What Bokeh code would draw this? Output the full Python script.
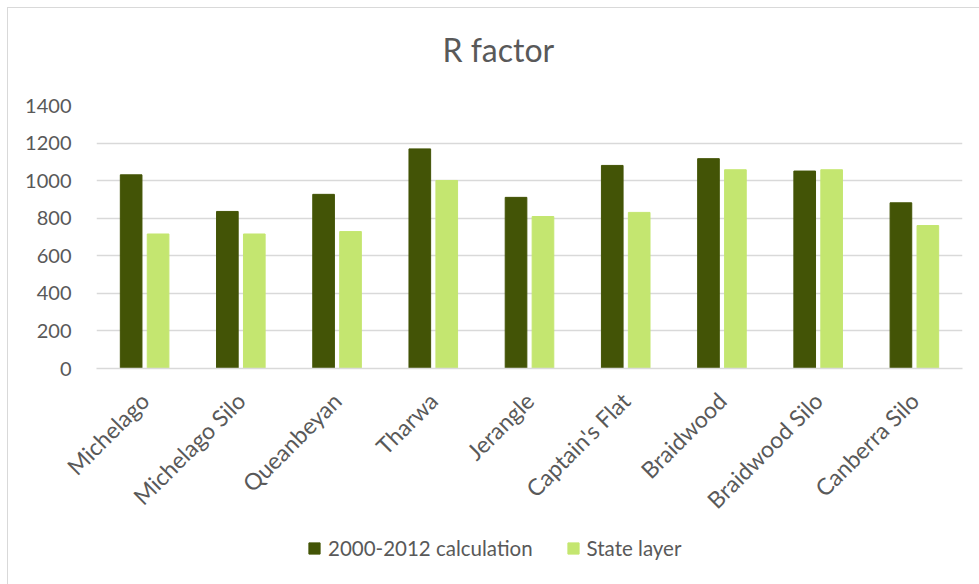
import math
from bokeh.plotting import figure
from bokeh.layouts import column
from bokeh.models import FactorRange, Legend, LegendItem, Title
from bokeh.transform import dodge
from bokeh.models import ColumnDataSource
from bokeh.embed import file_html
from bokeh.resources import INLINE

categories = ["Michelago", "Michelago Silo", "Queanbeyan", "Tharwa", "Jerangle",
              "Captain's Flat", "Braidwood", "Braidwood Silo", "Canberra Silo"]
calc_2000_2012 = [1031, 836, 927, 1169, 911, 1081, 1117, 1051, 882]
state_layer = [716, 716, 729, 1001, 809, 831, 1058, 1058, 761]
y_ticks = [0, 200, 400, 600, 800, 1000, 1200, 1400]
series_names = ["2000-2012 calculation", "State layer"]

DARK = "#435406"
LIGHT = "#C4E670"
TEXT = "#595959"
GRID = "#D9D9D9"
FONT = "Lato"

src = ColumnDataSource(dict(cat=categories, a=calc_2000_2012, b=state_layer))

p = figure(x_range=FactorRange(factors=categories, range_padding=0),
           y_range=(0, 1400), frame_width=866, frame_height=263,
           output_backend="svg", toolbar_location=None, tools="",
           min_border_left=88, min_border_right=17, min_border_top=97,
           min_border_bottom=160)

spacer = Title(text=" ", text_font=FONT, text_font_size="20px", standoff=9)
p.add_layout(spacer, "above")
t = Title(text="R factor", align="left", offset=346, text_font=FONT, text_font_size="32px",
          text_font_style="normal", text_color=TEXT, standoff=0, vertical_align="top")
p.add_layout(t, "above")

p.vbar(x=dodge("cat", -0.14, range=p.x_range), top="a", width=0.225, source=src,
       fill_color=DARK, line_color=DARK)
p.vbar(x=dodge("cat", 0.14, range=p.x_range), top="b", width=0.225, source=src,
       fill_color=LIGHT, line_color=LIGHT)

p.outline_line_color = None
p.xgrid.grid_line_color = None
p.ygrid.grid_line_color = GRID
p.ygrid.grid_line_width = 1.5
p.yaxis.ticker = y_ticks
p.yaxis.axis_line_color = None
p.yaxis.major_tick_line_color = None
p.yaxis.minor_tick_line_color = None
p.yaxis.major_label_text_font = FONT
p.yaxis.major_label_text_font_size = "20px"
p.yaxis.major_label_text_color = TEXT
p.yaxis.major_label_standoff = 19

p.xaxis.axis_line_color = GRID
p.xaxis.axis_line_width = 1.5
p.xaxis.major_tick_line_color = None
p.xaxis.minor_tick_line_color = None
p.xaxis.major_label_orientation = math.pi / 4
p.xaxis.major_label_text_font = FONT
p.xaxis.major_label_text_font_size = "23px"
p.xaxis.major_label_text_color = TEXT
p.xaxis.major_label_standoff = 22

# legend strip below the chart (swatch renderers sit outside the visible range)
p2 = figure(width=971, height=56, output_backend="svg", toolbar_location=None, tools="",
            x_axis_location=None, y_axis_location=None, min_border=0,
            x_range=(0, 1), y_range=(0, 1))
p2.outline_line_color = None
p2.grid.visible = False
l1 = p2.vbar(x=[-10], top=[-10], bottom=[-11], width=0.1, fill_color=DARK, line_color=DARK)
l2 = p2.vbar(x=[-10], top=[-10], bottom=[-11], width=0.1, fill_color=LIGHT, line_color=LIGHT)
legend = Legend(items=[LegendItem(label=series_names[0], renderers=[l1]),
                       LegendItem(label=series_names[1], renderers=[l2])],
                orientation="horizontal", location=(211, 24),
                label_text_font=FONT, label_text_font_size="20.5px", label_text_color=TEXT,
                glyph_width=14, glyph_height=14, label_standoff=7, spacing=33,
                border_line_color=None, background_fill_alpha=0, margin=0, padding=0)
p2.add_layout(legend, "center")

layout = column(p, p2, spacing=0,
                styles={"margin-left": "7px", "margin-top": "7px",
                        "border-left": "1px solid #D9D9D9",
                        "border-top": "1px solid #D9D9D9"})

open("out.html", "w").write(file_html(layout, INLINE))
